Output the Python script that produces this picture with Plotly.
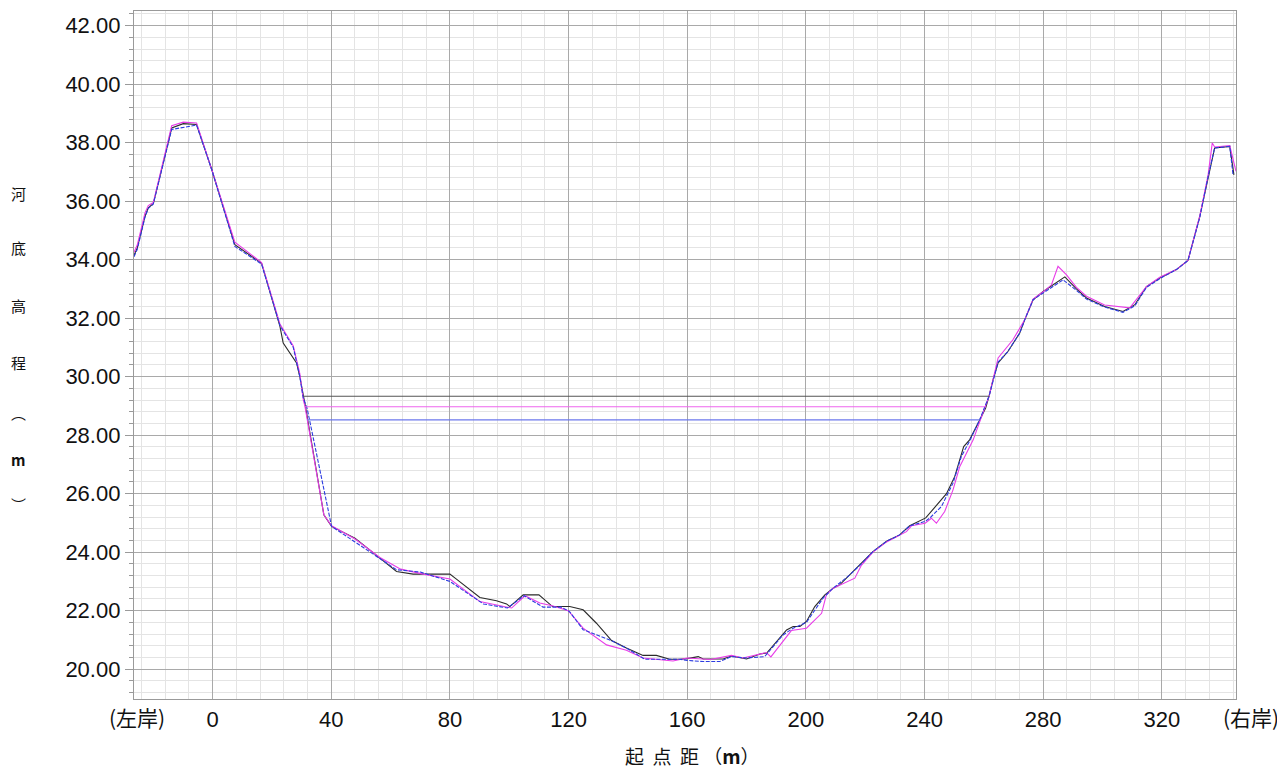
import plotly.graph_objects as go

# ---------------- data ----------------
black_x = [-26.5, -25.4, -22.8, -21.7, -20.0, -13.8, -9.9, -5.4, -0.3, 7.5, 16.5, 22.7, 23.8, 28.3, 29.4,
           30.5, 31.3, 37.5, 40.1, 48.0, 56.4, 62.0, 67.6, 80.0, 82.2, 90.1, 95.7, 99.1, 100.2, 104.7,
           110.0, 114.6, 120.4, 124.9, 129.4, 134.5, 139.5, 145.1, 149.6, 154.1, 157.5, 160.0, 163.7,
           165.4, 172.1, 174.9, 180.0, 184.5, 186.8, 193.5, 195.7, 198.0, 200.2, 203.0, 206.4, 209.2,
           211.4, 214.2, 218.7, 222.6, 227.2, 231.6, 235.0, 239.0, 240.4, 247.4, 250.2, 253.2, 255.2,
           259.2, 260.6, 261.8, 263.1, 264.8, 268.1, 272.1, 273.8, 276.6, 280.0, 287.3, 291.2, 294.6,
           300.7, 306.9, 310.9, 314.8, 319.3, 324.9, 328.8, 332.8, 335.6, 337.8, 342.9, 344.3]
black_y = [34.15, 34.40, 35.48, 35.77, 35.91, 38.50, 38.65, 38.62, 37.08, 34.51, 33.88, 31.72, 31.15, 30.47, 30.00,
           29.32, 28.98, 25.28, 24.88, 24.48, 23.80, 23.34, 23.25, 23.25, 23.08, 22.45, 22.34, 22.23, 22.14, 22.54,
           22.54, 22.14, 22.14, 22.03, 21.57, 20.98, 20.72, 20.47, 20.47, 20.34, 20.34, 20.36, 20.43,
           20.35, 20.35, 20.45, 20.35, 20.52, 20.55, 21.34, 21.46, 21.46, 21.63, 22.14, 22.54, 22.77,
           22.88, 23.17, 23.62, 24.02, 24.37, 24.59, 24.90, 25.10, 25.17, 26.00, 26.59, 27.61, 27.84,
           28.64, 28.93, 29.35, 29.90, 30.47, 30.86, 31.49, 31.95, 32.63, 32.91, 33.41, 33.00, 32.69,
           32.40, 32.23, 32.46, 33.08, 33.37, 33.66, 33.97, 35.48, 36.85, 37.82, 37.87, 36.90]

magenta_x = [-26.5, -25.4, -22.8, -21.7, -20.0, -13.8, -9.9, -5.4, -0.3, 7.5, 16.5, 22.7, 27.2, 29.4,
             30.6, 31.1, 37.5, 40.1, 48.0, 56.4, 63.4, 71.0, 80.0, 90.1, 100.8, 105.3, 110.3, 114.8,
             119.9, 124.9, 132.8, 139.5, 145.1, 155.2, 160.0, 167.8, 174.9, 178.8, 186.7, 188.2,
             195.1, 200.2, 205.3, 206.9, 209.2, 216.5, 218.7, 222.6, 227.2, 231.6, 233.9, 235.6,
             240.2, 242.3, 244.0, 246.8, 249.6, 251.9, 256.4, 259.7, 261.8, 264.8, 269.8, 273.8,
             276.6, 280.0, 282.8, 285.0, 287.8, 291.2, 294.6, 300.7, 309.2, 314.8, 319.3, 324.9,
             328.8, 332.8, 335.6, 337.0, 337.8, 342.9, 345.0]
magenta_y = [34.25, 34.50, 35.60, 35.85, 35.95, 38.58, 38.70, 38.67, 37.08, 34.60, 33.90, 31.80, 31.05, 30.10,
             29.20, 29.00, 25.28, 24.90, 24.45, 23.82, 23.42, 23.25, 23.08, 22.31, 22.09, 22.51, 22.26, 22.16,
             22.00, 21.40, 20.83, 20.65, 20.38, 20.28, 20.38, 20.33, 20.47, 20.38, 20.57, 20.42,
             21.32, 21.40, 21.91, 22.54, 22.77, 23.11, 23.55, 24.00, 24.35, 24.58, 24.70, 24.90,
             24.99, 25.16, 24.99, 25.39, 26.13, 26.93, 27.84, 28.76, 29.35, 30.64, 31.26, 31.95,
             32.65, 32.90, 33.14, 33.77, 33.49, 33.05, 32.75, 32.45, 32.35, 33.08, 33.40, 33.66,
             33.97, 35.50, 36.90, 37.99, 37.85, 37.90, 37.02]

blue_x = [-26.5, -25.4, -22.8, -21.7, -20.0, -13.8, -5.4, -0.3, 7.5, 16.5, 22.7, 27.2, 29.4, 30.5,
          31.9, 40.1, 48.0, 56.4, 62.0, 70.0, 80.0, 91.3, 96.3, 99.4, 105.0, 111.4, 117.6, 120.4,
          124.9, 133.9, 139.5, 145.7, 157.5, 160.0, 165.4, 171.0, 174.9, 180.0, 186.1, 192.3,
          195.7, 200.2, 205.8, 209.2, 214.2, 218.7, 222.6, 227.2, 231.6, 235.0, 240.2, 241.8,
          245.7, 249.6, 252.4, 255.2, 258.6, 261.8, 264.8, 268.1, 272.1, 273.8, 276.6, 280.0,
          286.7, 291.2, 294.6, 300.7, 306.9, 310.9, 314.8, 319.3, 324.9, 328.8, 332.8, 335.6,
          337.8, 342.9, 344.0]
blue_y = [34.10, 34.35, 35.45, 35.75, 35.90, 38.45, 38.60, 37.08, 34.45, 33.85, 31.75, 31.00, 30.00, 29.30,
          28.90, 24.88, 24.35, 23.78, 23.40, 23.32, 23.00, 22.23, 22.14, 22.09, 22.51, 22.12, 22.12, 21.96,
          21.35, 21.00, 20.72, 20.34, 20.34, 20.30, 20.26, 20.26, 20.43, 20.38, 20.43, 21.17,
          21.40, 21.60, 22.43, 22.77, 23.17, 23.60, 24.02, 24.37, 24.59, 24.90, 25.05, 25.17,
          25.56, 26.36, 27.27, 27.80, 28.53, 29.35, 30.50, 30.86, 31.49, 31.95, 32.63, 32.86,
          33.31, 32.95, 32.65, 32.38, 32.20, 32.42, 33.05, 33.35, 33.66, 33.97, 35.45, 36.85,
          37.82, 37.87, 36.90]

# water levels: [start, end], level
black_wl_x = [30.5, 261.8]
black_wl = 29.33
magenta_wl_x = [31.1, 260.6]
magenta_wl = 28.97
blue_wl_x = [31.9, 258.6]
blue_wl = 28.52

x_tickvals = [0, 40, 80, 120, 160, 200, 240, 280, 320]
x_ticktext = ["0", "40", "80", "120", "160", "200", "240", "280", "320"]
left_bank = "(左岸)"
right_bank = "(右岸)"
x_title = "起&nbsp;&nbsp;点&nbsp;&nbsp;距&nbsp;（<b>m</b>）"
y_title_chars = ["河", "底", "高", "程", "︵", "<b>m</b>", "︶"]

# ---------------- figure ----------------
BLACK = "#2a2a2a"
MAGENTA = "#e83ce8"
BLUE = "#2c3be0"

fig = go.Figure()
fig.add_trace(go.Scatter(x=black_x, y=black_y, mode="lines", line=dict(color=BLACK, width=1.1), showlegend=False))
fig.add_trace(go.Scatter(x=magenta_x, y=magenta_y, mode="lines", line=dict(color=MAGENTA, width=1.1), showlegend=False))
fig.add_trace(go.Scatter(x=blue_x, y=blue_y, mode="lines", line=dict(color=BLUE, width=1.1, dash="4px,1.5px"), showlegend=False))
fig.add_trace(go.Scatter(x=black_wl_x, y=[black_wl, black_wl], mode="lines", line=dict(color="#555555", width=1.1), showlegend=False))
fig.add_trace(go.Scatter(x=magenta_wl_x, y=[magenta_wl, magenta_wl], mode="lines", line=dict(color="#ee66ee", width=1.1), showlegend=False))
fig.add_trace(go.Scatter(x=blue_wl_x, y=[blue_wl, blue_wl], mode="lines", line=dict(color="#6d79ec", width=1.3), showlegend=False))

# page body has an 8px margin: work in screen pixels and shift by OFF
OFF = 8
W, H = 1285 - OFF, 770 - OFF
L, R, T, B = 134 - OFF, 1236 - OFF, 11 - OFF, 699 - OFF


def px2paper(px, py):
    px, py = px - OFF, py - OFF
    return (px - L) / (R - L), (B - py) / (B - T)


annotations = []
for txt, px in [(left_bank, 137), (right_bank, 1251)]:
    ax, ay = px2paper(px, 717)
    annotations.append(dict(text=txt, x=ax, y=ay, xref="paper", yref="paper", showarrow=False,
                            xanchor="center", yanchor="middle",
                            font=dict(family="Noto Sans CJK SC, Liberation Sans", size=21, color="#111")))
ax, ay = px2paper(692, 755)
annotations.append(dict(text=x_title, x=ax, y=ay, xref="paper", yref="paper", showarrow=False,
                        xanchor="center", yanchor="middle",
                        font=dict(family="Noto Sans CJK SC, Liberation Sans", size=19, color="#111")))
for ch, py in zip(y_title_chars, [193, 248, 305, 362, 412, 460, 505]):
    ax, ay = px2paper(18, py)
    annotations.append(dict(text=ch, x=ax, y=ay, xref="paper", yref="paper", showarrow=False,
                            xanchor="center", yanchor="middle",
                            font=dict(family="Noto Sans CJK SC, Liberation Sans", size=15, color="#111")))

fig.update_layout(
    width=W, height=H, autosize=False,
    margin=dict(l=L, r=W - R, t=T, b=H - B),
    plot_bgcolor="white", paper_bgcolor="white",
    annotations=annotations,
    font=dict(family="Liberation Sans, Arial", size=22, color="#111"),
)
fig.update_xaxes(
    range=[-26.5, 345], tickvals=x_tickvals, ticktext=x_ticktext,
    showgrid=True, gridcolor="#a9a9a9", gridwidth=1, zeroline=False,
    showline=True, linecolor="#9a9a9a", linewidth=1.3, mirror=True,
    ticks="", tickfont=dict(size=22, family="Liberation Sans, Arial", color="#111"),
    minor=dict(tick0=0, dtick=8, showgrid=True, gridcolor="#e4e4e4", gridwidth=1),
)
fig.update_yaxes(
    range=[18.98, 42.5], tick0=0, dtick=2, tickformat=".2f",
    showgrid=True, gridcolor="#a9a9a9", gridwidth=1, zeroline=False,
    showline=True, linecolor="#9a9a9a", linewidth=1.3, mirror=True,
    ticks="outside", ticklen=8, tickcolor="#9a9a9a", tickwidth=1,
    tickfont=dict(size=22, family="Liberation Sans, Arial", color="#111"),
    minor=dict(tick0=0, dtick=0.4, showgrid=True, gridcolor="#e4e4e4", gridwidth=1,
               ticks="outside", ticklen=4, tickcolor="#9a9a9a"),
)

fig.write_html("out.html")
